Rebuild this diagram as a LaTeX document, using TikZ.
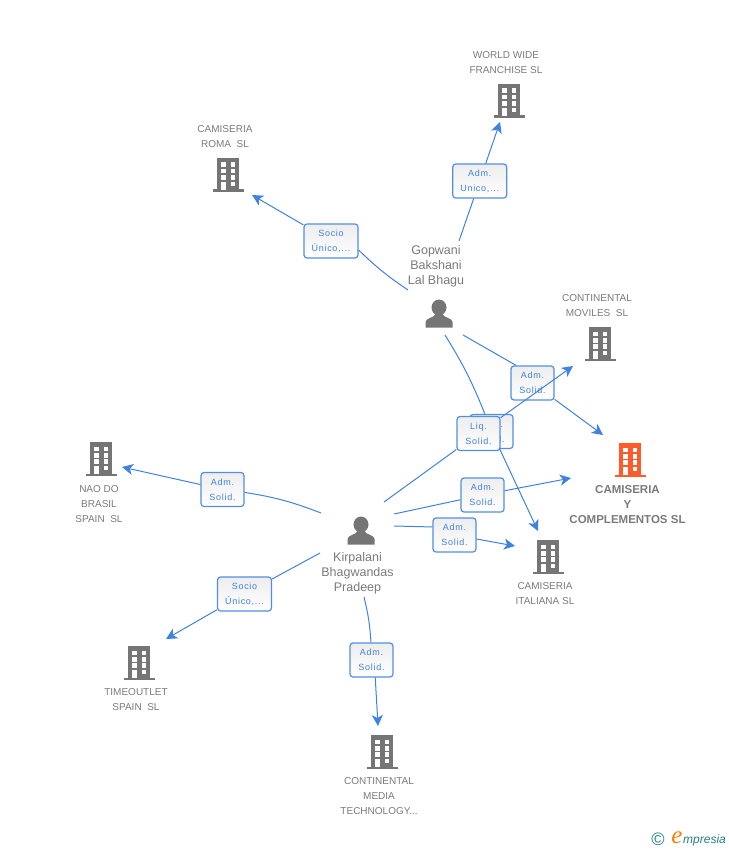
\documentclass[tikz,border=0pt]{standalone}
\usepackage{fontspec}
\setmainfont{Liberation Sans}
\newfontfamily\boxfont[LetterSpace=8]{Liberation Sans}
\newfontfamily\logoserif{Liberation Serif}
\usetikzlibrary{arrows.meta,positioning,calc}
\definecolor{linkblue}{HTML}{3F82E0}
\definecolor{iconfill}{HTML}{757575}
\definecolor{textgray}{HTML}{7A7A7A}
\definecolor{redfill}{HTML}{FF5A2B}
\tikzset{
    link/.style={draw=linkblue, line width=1pt},
    linkarrow/.style={link, -{Stealth[length=11pt,width=11pt,inset=3pt]}},
    rolebox/.style={draw=linkblue!90, line width=1.2pt, rounded corners=3pt, top color=black!7, bottom color=white,
        minimum width=43pt, minimum height=34pt, inner sep=0pt, align=center, text=linkblue,
        font=\boxfont\fontsize{9}{15}\selectfont},
    complabel/.style={align=center, text=textgray, inner sep=0pt, font=\fontsize{10}{15}\selectfont},
    perlabel/.style={align=center, text=textgray, inner sep=0pt, font=\fontsize{12.5}{15}\selectfont},
    bldg/.pic={
        \fill[pic actions] (-11,-17) rectangle (11,15);
        \fill[pic actions] (-15.5,14.5) rectangle (15.5,17);
        \foreach \wy in {-12.5,-5.9,0.2} {
            \fill[white] (-7,\wy) rectangle ++(4.8,4.4);
            \fill[white] (2.5,\wy) rectangle ++(4.8,4.4);
        }
        \fill[white] (-7,6.8) rectangle (-2.2,15);
        \fill[white] (2.5,6.8) rectangle ++(4.8,4.4);
    },
    person/.pic={
        \fill[iconfill] (0,-6.5) ellipse (7.5 and 8);
        \fill[iconfill] (-13.5,13.5) -- (-13.5,8) .. controls (-13.5,4) and (-5,4) .. (-3.5,0)
            -- (3.5,0) .. controls (5,4) and (13.5,4) .. (13.5,8) -- (13.5,13.5) -- cycle;
    }
}
\begin{document}
\begin{tikzpicture}[x=1pt, y=-1pt]
    \useasboundingbox (0,0) rectangle (728,850);
    % edificios
    \foreach \i/\x/\y in {1/509/101, 2/228/175, 3/600/344, 5/548/557, 6/101/459, 7/139/663, 8/382/752} {
        \pic[iconfill] (b\i) at (\x,\y) {bldg};
    }
    \pic[redfill] (b4) at (630,460) {bldg};
    % personas
    \pic (p1) at (439,314) {person};
    \pic (p2) at (361,531) {person};
    % textos
    \node[complabel] (t1) at (506,63) {WORLD WIDE\\FRANCHISE SL};
    \node[complabel] (t2) at (225,137) {CAMISERIA\\ROMA\ \ SL};
    \node[complabel] (t3) at (597,306) {CONTINENTAL\\MOVILES\ \ SL};
    \node[complabel, font=\bfseries\fontsize{11.5}{15}\selectfont] (t4) at (627.5,505) {CAMISERIA\\Y\\COMPLEMENTOS SL};
    \node[complabel] (t5) at (545,594) {CAMISERIA\\ITALIANA SL};
    \node[complabel] (t6) at (99,504) {NAO DO\\BRASIL\\SPAIN\ \ SL};
    \node[complabel] (t7) at (136,700) {TIMEOUTLET\\SPAIN\ \ SL};
    \node[complabel] (t8) at (379,796) {CONTINENTAL\\MEDIA\\TECHNOLOGY...};
    \node[perlabel] (g1) at (436,266) {Gopwani\\Bakshani\\Lal Bhagu};
    \node[perlabel] (g2) at (357.5,573.5) {Kirpalani\\Bhagwandas\\Pradeep};
    % cajas
    \node[rolebox, minimum width=54pt] (m1) at (479.7,181) {Adm.\\Unico,...};
    \node[rolebox, minimum width=54pt] (m2) at (331,241) {Socio\\Único,...};
    \node[rolebox] (m3) at (532.5,383) {Adm.\\Solid.};
    \node[rolebox] (m4) at (491.5,431.5) {Adm.\\Solid.};
    \node[rolebox] (m5) at (478.5,433.5) {Liq.\\Solid.};
    \node[rolebox] (m6) at (482.5,495) {Adm.\\Solid.};
    \node[rolebox] (m7) at (454.5,535) {Adm.\\Solid.};
    \node[rolebox] (m8) at (222.5,489.5) {Adm.\\Solid.};
    \node[rolebox, minimum width=54pt] (m9) at (244.5,594) {Socio\\Único,...};
    \node[rolebox] (m10) at (371.5,660) {Adm.\\Solid.};
    % extremos libres
    \foreach \n/\x/\y in {s1/459/241, e1/500/122, s2/408/290, e2/252/195, s3/463/335, e3/603/435,
        s4/445/335, e4/538/531, s5/384/502, e5/573/366, s6/394/514, e6/571/478,
        s7/394/526, e7/515/546, s8/321/513, e8/122/467, s9/320/553, e9/166/639,
        s10/364/597, e10/378/726} {
        \coordinate (\n) at (\x,\y);
    }
    % conexiones
    \draw[link] (s1) -- (m1);
    \draw[linkarrow] (m1) -- (e1);
    \draw[link] (s2) to[bend left=5] (m2.-18);
    \draw[linkarrow] (m2) -- (e2);
    \draw[link] (s3) -- (m3.133);
    \draw[linkarrow] (m3) -- (e3);
    \draw[link] (s4) to[bend left=5] (m4);
    \draw[linkarrow] (m4) -- (e4);
    \draw[link] (s5) -- (m5);
    \draw[linkarrow] (m5) -- (e5);
    \draw[link] (s6) -- (m6);
    \draw[linkarrow] (m6) -- (e6);
    \draw[link] (s7) -- (m7.160);
    \draw[linkarrow] (m7) -- (e7);
    \draw[link] (s8) to[bend right=6] (m8);
    \draw[linkarrow] (m8) -- (e8);
    \draw[link] (s9) -- (m9);
    \draw[linkarrow] (m9) -- (e9);
    \draw[link] (s10) to[bend left=5] (m10);
    \draw[linkarrow] (m10.-78) -- (e10);
    % logo
    \node[text=teal!70!gray, inner sep=0pt, font=\fontsize{18}{18}\selectfont] (c1) at (658,839) {©};
    \node[text=orange, inner sep=0pt, font=\logoserif\itshape\fontsize{25}{25}\selectfont] (l1) at (677,838) {e};
    \node[text=teal!70!gray, inner sep=0pt, anchor=west, font=\itshape\fontsize{12}{12}\selectfont] (l2) at (683,840) {mpresia};
\end{tikzpicture}
\end{document}
